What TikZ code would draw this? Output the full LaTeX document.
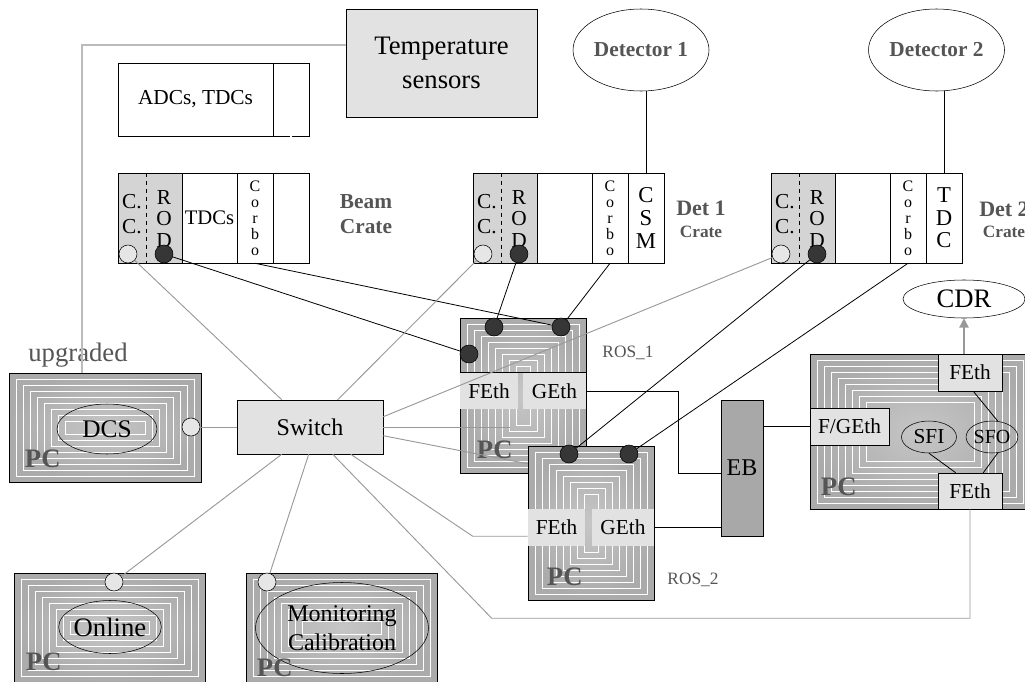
\documentclass[tikz,border=0pt]{standalone}
\usepackage{fontspec}
\setmainfont{Liberation Serif}
\usetikzlibrary{arrows.meta,positioning,calc,shapes.geometric}
\newlength\px
\setlength\px{0.75pt}
\definecolor{lightbox}{HTML}{E2E2E2}
\definecolor{rodgray}{HTML}{D4D4D4}
\definecolor{pcgray}{HTML}{B8B8B8}
\definecolor{pcinner}{HTML}{C6C6C6}
\definecolor{pcouter}{HTML}{ABABAB}
\definecolor{ebgray}{HTML}{A8A8A8}
\definecolor{txtgray}{HTML}{555555}
\definecolor{wiregray}{HTML}{999999}
\definecolor{tempwire}{HTML}{BBBBBB}
\definecolor{darkfill}{HTML}{363636}
\definecolor{lightfill}{HTML}{E6E6E6}
\tikzset{
  box/.style={draw,fill=lightbox,inner sep=0pt,align=center},
  slot/.style={draw,fill=white,minimum height=90\px,inner sep=0pt,align=center},
  slottxt/.style={inner sep=0pt,align=center,font=\fontsize{16}{18.75}\selectfont},
  pcbox/.style={draw,inner sep=0pt,inner color=pcinner,outer color=pcouter,
    path picture={
      \foreach \i in {1,...,8}
        \draw[white,line width=0.5pt]
          ([shift={(\i*7,-\i*6)}]path picture bounding box.south west) rectangle
          ([shift={(-\i*7,\i*6)}]path picture bounding box.north east);
    }},
  app/.style={ellipse,draw,inner sep=0pt,align=center},
  eth/.style={fill=lightbox,inner sep=0pt,font=\fontsize{16}{16}\selectfont},
  port/.style={circle,draw,fill=lightfill,minimum size=18\px,inner sep=0pt},
  dport/.style={circle,draw,fill=darkfill,minimum size=18\px,inner sep=0pt},
  pclbl/.style={inner sep=0pt,text=txtgray,font=\bfseries\fontsize{20}{20}\selectfont},
  cratelbl/.style={inner sep=0pt,align=center,text=txtgray,font=\bfseries\fontsize{16}{18.75}\selectfont},
  roslbl/.style={inner sep=0pt,text=txtgray,font=\fontsize{13}{13}\selectfont},
  wire/.style={line width=0.6pt},
  gwire/.style={wiregray,line width=0.7pt}
}
\begin{document}
\begin{tikzpicture}[x=0.75pt,y=-0.75pt]
  \useasboundingbox (0,0) rectangle (1025,682);
  \clip (0,0) rectangle (1025,682);

  % sensors, detectors
  \node[box,minimum width=191\px,minimum height=108\px,font=\fontsize{20}{25.5}\selectfont] (temp) at (441.5,63) {Temperature\\sensors};
  \node[slot,minimum width=155\px,minimum height=73\px,font=\fontsize{16}{16}\selectfont] (adc) at (195.5,99.5) {ADCs, TDCs};
  \node[slot,minimum width=36\px,minimum height=73\px] (adcx) at (291,99.5) {};
  \node[app,minimum width=136\px,minimum height=82\px,text=txtgray,font=\bfseries\fontsize{16}{16}\selectfont] (det1) at (641,50) {Detector 1};
  \node[app,minimum width=136\px,minimum height=82\px,text=txtgray,font=\bfseries\fontsize{16}{16}\selectfont] (det2) at (936.5,50) {Detector 2};

  % crates
  \foreach \n/\x/\mtxt/\ltxt in {beam/118/TDCs/{},d1/473/{}/{C\\S\\M},d2/771/{}/{T\\D\\C}}{
    \fill[rodgray] (\x,173) rectangle ++(64,90);
    \node[slot,minimum width=55\px,font=\fontsize{15.5}{16}\selectfont] (\n-mid) at (\x+91.5,218) {\mtxt};
    \node[slot,minimum width=36\px,font=\fontsize{12}{12}\selectfont] (\n-corbo) at (\x+137,218) {C\\o\\r\\b\\o};
    \node[slot,minimum width=36\px,font=\fontsize{17}{17}\selectfont] (\n-last) at (\x+173,218) {\ltxt};
    \draw[dashed] (\x+28.5,173) -- ++(0,90);
    \draw (\x,173) rectangle ++(191,90);
    \node[slottxt] (\n-cc) at (\x+14,214) {C.\\C.};
    \node[slottxt,font=\fontsize{16}{16}\selectfont] (\n-rod) at (\x+46,219) {R\\O\\D};
    \node[port] (\n-ccp) at (\x+10,254) {};
    \node[dport] (\n-rodp) at (\x+46,254) {};
  }
  \node[cratelbl] (beam-lbl) at (366,214.5) {Beam\\Crate};
  \node[cratelbl,font=\bfseries\fontsize{16.5}{16}\selectfont] (d1-lbl) at (701,208) {Det 1};
  \node[cratelbl,font=\bfseries\fontsize{13}{13}\selectfont] (d1-crate) at (701,232) {Crate};
  \node[cratelbl,font=\bfseries\fontsize{16.5}{16}\selectfont] (d2-lbl) at (1004,209) {Det 2};
  \node[cratelbl,font=\bfseries\fontsize{13}{13}\selectfont] (d2-crate) at (1004,232) {Crate};

  \draw[wire] (d1-last.north) -- (d1-last.north |- det1.south);
  \draw[wire] (d2-last.north) -- (d2-last.north |- det2.south);
  \draw[double,double distance=1.2pt] (adcx.south) -- (beam-last.north);

  % DCS, switch, online, monitoring
  \node[pcbox,minimum width=192\px,minimum height=109\px] (dcs) at (105,427.5) {};
  \node[app,minimum width=100\px,minimum height=50\px,font=\fontsize{19}{19}\selectfont] (dcs-app) at (107,429) {DCS};
  \node[pclbl] (dcs-pc) at ($(dcs.south west)+(34,-23)$) {PC};
  \node[port] (dcs-port) at (191,427) {};
  \node[text=txtgray,font=\fontsize{20}{20}\selectfont] (upg) at (78,355) {upgraded};
  \draw[tempwire,line width=1.3pt] ($(temp.north west)!1/3!(temp.south west)$) -| ($(dcs.north west)+(73,0)$);

  \node[box,minimum width=146\px,minimum height=54\px,font=\fontsize{18}{18}\selectfont] (sw) at (310,427) {Switch};

  \node[pcbox,minimum width=191\px,minimum height=109\px] (onl) at (109.5,627.5) {};
  \node[app,minimum width=101\px,minimum height=53\px,font=\fontsize{20}{20}\selectfont] (onl-app) at (110,627) {Online};
  \node[pclbl] (onl-pc) at ($(onl.south west)+(30,-20)$) {PC};
  \node[port] (onl-port) at (114,582) {};

  \node[pcbox,minimum width=191\px,minimum height=109\px] (mon) at (341.5,627.5) {};
  \node[app,minimum width=173\px,minimum height=91\px,font=\fontsize{18}{21.5}\selectfont] (mon-app) at (342,628) {Monitoring\\Calibration};
  \node[pclbl] (mon-pc) at ($(mon.south west)+(29,-14)$) {PC};
  \node[port] (mon-port) at (267,582) {};

  % ROS
  \node[pcbox,minimum width=126\px,minimum height=155\px] (r1) at (523,395.5) {};
  \node[eth,minimum width=58\px,minimum height=36\px] (r1-fe) at (489,391) {FEth};
  \node[eth,minimum width=63\px,minimum height=36\px] (r1-ge) at (554.5,391) {GEth};
  \draw[wire] (r1-fe.north west) -- (r1-ge.north east);
  \node[dport] (r1-p1) at (494,327) {};
  \node[dport] (r1-p2) at (561,327) {};
  \node[dport] (r1-p3) at (469,354) {};
  \node[pclbl] (r1-pc) at ($(r1.south west)+(35,-23)$) {PC};
  \node[roslbl] (r1-lbl) at (628,353) {ROS\_1};

  \node[pcbox,minimum width=126\px,minimum height=154\px] (r2) at (591,523) {};
  \node[eth,minimum width=57\px,minimum height=37\px] (r2-fe) at (556.5,527.5) {FEth};
  \node[eth,minimum width=62\px,minimum height=37\px] (r2-ge) at (623,527.5) {GEth};
  \node[dport] (r2-p1) at (569,454) {};
  \node[dport] (r2-p2) at (629,454) {};
  \node[pclbl] (r2-pc) at ($(r2.south west)+(37,-23)$) {PC};
  \node[roslbl] (r2-lbl) at (693,580) {ROS\_2};

  % EB, SFI/SFO
  \node[draw,fill=ebgray,minimum width=42\px,minimum height=136\px,font=\fontsize{18}{18}\selectfont] (eb) at (742,468) {EB};
  \node[pcbox,minimum width=220\px,minimum height=155\px] (sfipc) at (920,431.5) {};
  \node[eth,draw,minimum width=64\px,minimum height=37\px] (fe-top) at (970,372.5) {FEth};
  \node[eth,draw,minimum width=64\px,minimum height=36\px] (fe-bot) at (970,491) {FEth};
  \node[eth,draw,minimum width=79\px,minimum height=37\px] (fg) at (849.5,426.5) {F/GEth};
  \node[app,minimum width=55\px,minimum height=32\px,font=\fontsize{16}{16}\selectfont] (sfi) at (929,437) {SFI};
  \node[app,minimum width=46\px,minimum height=32\px,font=\fontsize{15}{15}\selectfont] (sfo) at (992,437) {SFO};
  \node[pclbl] (sfi-pc) at ($(sfipc.south west)+(29,-22)$) {PC};
  \node[app,minimum width=122\px,minimum height=38\px,font=\fontsize{20}{20}\selectfont] (cdr) at (964,299) {CDR};

  % crates to ROS
  \draw[wire] (beam-corbo.south) -- (r1-p2);
  \draw[wire] (beam-rodp) -- (r1-p3);
  \draw[wire] (d1-rodp) -- (r1-p1);
  \draw[wire] (d1-corbo.south) -- (r1-p2);
  \draw[wire] (d2-rodp) -- (r2-p1);
  \draw[wire] (d2-corbo.south) -- (r2-p2);

  % switch links
  \draw[gwire] ($(sw.north west)+(45,0)$) -- (beam-ccp);
  \draw[gwire] ($(sw.north west)+(101,0)$) -- (d1-ccp);
  \draw[gwire] ($(sw.north east)+(0,17)$) -- (d2-ccp);
  \draw[gwire] (sw.east) -- ++(127,0);
  \draw[gwire] ($(sw.north east)+(0,36)$) -- ($(r2.north west)+(0,18)$);
  \draw[gwire] ($(sw.south west)+(114,0)$) -- ++(122,82) -- ++(55,0);
  \draw[gwire] ($(sw.south west)+(96,0)$) -- ++(159,164) -| (fe-bot.south);
  \draw[gwire] ($(sw.south west)+(45,0)$) -- (onl-port);
  \draw[gwire] ($(sw.south west)+(72,0)$) -- (mon-port);
  \draw[gwire] (sw.west) -- (dcs-port);

  % event builder
  \draw[wire] (r1-ge.east) -- ++(92,0) |- ($(eb.north west)!0.54!(eb.south west)$);
  \draw[wire] (r2-ge.east) -- (r2-ge.east -| eb.west);
  \draw[wire] (fg.west -| eb.east) -- (fg.west);
  \draw[wire] (fe-top.-80) -- (sfo.70);
  \draw[wire] (sfi.south) -- (fe-bot.128);
  \draw[wire] (sfo.-70) -- (fe-bot.54);
  \draw[gwire,line width=1pt,-{Triangle[length=7pt,width=7pt]}] (fe-top.north -| cdr.south) -- (cdr.south);
\end{tikzpicture}
\end{document}
